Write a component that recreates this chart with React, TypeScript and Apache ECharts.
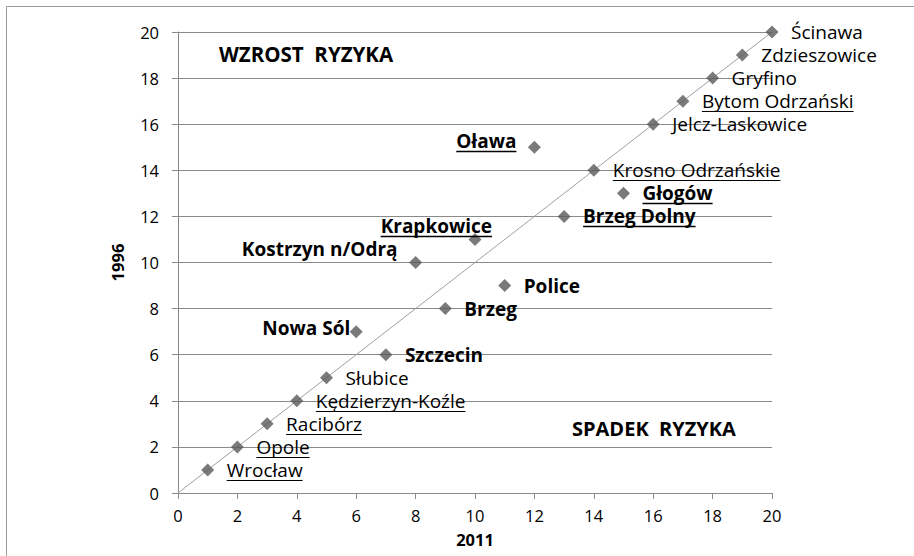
import React, { useEffect, useRef } from "react";
import * as echarts from "echarts";

const cities = [
  "Wrocław", "Opole", "Racibórz", "Kędzierzyn-Koźle", "Słubice", "Szczecin", "Nowa Sól",
  "Brzeg", "Police", "Kostrzyn n/Odrą", "Krapkowice", "Brzeg Dolny", "Głogów",
  "Krosno Odrzańskie", "Oława", "Jelcz-Laskowice", "Bytom Odrzański", "Gryfino",
  "Zdzieszowice", "Ścinawa",
];
const rank2011 = [1, 2, 3, 4, 5, 7, 6, 9, 11, 8, 10, 13, 15, 14, 12, 16, 17, 18, 19, 20];
const rank1996 = [1, 2, 3, 4, 5, 6, 7, 8, 9, 10, 11, 12, 13, 14, 15, 16, 17, 18, 19, 20];
const boldCities = ["Szczecin", "Nowa Sól", "Brzeg", "Police", "Kostrzyn n/Odrą", "Krapkowice", "Brzeg Dolny", "Głogów", "Oława"];
const underlinedCities = ["Wrocław", "Opole", "Racibórz", "Kędzierzyn-Koźle", "Krapkowice", "Brzeg Dolny", "Głogów", "Krosno Odrzańskie", "Oława", "Bytom Odrzański"];
const diagonal = [[0, 0], [20, 20]];
const quadrantTexts = ["WZROST  RYZYKA", "SPADEK  RYZYKA"];

// label placement (style only): labels drawn on the left side, pixel offsets
const leftLabels: Record<string, { dx: number; dy: number }> = {
  "Nowa Sól": { dx: 6, dy: -4 },
  "Kostrzyn n/Odrą": { dx: 18, dy: -14 },
  "Krapkowice": { dx: -17, dy: -13 },
  "Oława": { dx: 18, dy: -6 },
};

const FONT = '"Open Sans", sans-serif';
const LABEL_SIZE = 19;

let ctx: CanvasRenderingContext2D | null = null;
function measure(text: string, weight: string, size: number) {
  if (!ctx) ctx = document.createElement("canvas").getContext("2d");
  if (!ctx) return text.length * size * 0.5;
  ctx.font = `${weight} ${size}px "Open Sans"`;
  return ctx.measureText(text).width;
}

export default function App() {
  const ref = useRef<HTMLDivElement>(null);
  useEffect(() => {
    if (!ref.current) return;
    const chart = echarts.init(ref.current, undefined, { renderer: "svg" });
    const points = rank2011.map((x, i) => [x, rank1996[i]]);
    const gray = "#8a8a8a";
    chart.setOption({
      animation: false,
      backgroundColor: "#ffffff",
      textStyle: { fontFamily: FONT },
      grid: { left: 178, right: 142, top: 32, bottom: 63 },
      xAxis: {
        type: "value",
        min: 0,
        max: 20,
        interval: 2,
        name: "2011",
        nameLocation: "middle",
        nameGap: 38,
        nameTextStyle: { fontWeight: "bold", fontSize: 16.5, color: "#000", fontFamily: FONT },
        axisLine: { show: true, lineStyle: { color: gray } },
        axisTick: { show: true, length: 6, lineStyle: { color: gray } },
        axisLabel: { margin: 14, fontSize: 16.5, color: "#000", fontFamily: FONT },
        splitLine: { show: false },
      },
      yAxis: {
        type: "value",
        min: 0,
        max: 20,
        interval: 2,
        name: "1996",
        nameLocation: "middle",
        nameGap: 52,
        nameTextStyle: { fontWeight: "bold", fontSize: 16.5, color: "#000", fontFamily: FONT },
        axisLine: { show: true, lineStyle: { color: gray } },
        axisTick: { show: true, length: 6, lineStyle: { color: gray } },
        axisLabel: { margin: 19, fontSize: 16.5, color: "#000", fontFamily: FONT },
        splitLine: { show: true, lineStyle: { color: gray, width: 1 } },
      },
      graphic: [
        {
          type: "rect",
          silent: true,
          shape: { x: 6.5, y: 6.5, width: 2000, height: 2000 },
          style: { fill: "none", stroke: "#9a9a9a", lineWidth: 1 },
        },
        {
          type: "text",
          left: 219,
          top: 43,
          style: { text: quadrantTexts[0], fontSize: 20.5, fontWeight: "bold", fill: "#000", fontFamily: FONT },
        },
        {
          type: "text",
          left: 572,
          top: 418,
          style: { text: quadrantTexts[1], fontSize: 20, fontWeight: "bold", fill: "#000", fontFamily: FONT },
        },
      ],
      series: [
        {
          type: "line",
          data: diagonal,
          symbol: "none",
          lineStyle: { color: "#a0a0a0", width: 1 },
          silent: true,
          z: 1,
        },
        {
          type: "scatter",
          data: points,
          symbol: "diamond",
          symbolSize: 13,
          itemStyle: { color: "#595959" },
          z: 3,
        },
        {
          type: "custom",
          data: points,
          clip: false,
          silent: true,
          z: 4,
          renderItem: (params: any, api: any) => {
            const i = params.dataIndex;
            const name = cities[i];
            const p = api.coord([api.value(0), api.value(1)]);
            const bold = boldCities.includes(name);
            const under = underlinedCities.includes(name);
            const weight = bold ? "bold" : "normal";
            const w = measure(name, weight, LABEL_SIZE);
            let tx = p[0] + 19;
            let ty = p[1];
            const lp = leftLabels[name];
            if (lp) {
              tx = p[0] - lp.dx - w;
              ty = p[1] + lp.dy;
            }
            const children: any[] = [
              {
                type: "text",
                style: {
                  text: name,
                  x: tx,
                  y: ty,
                  fontSize: LABEL_SIZE,
                  lineHeight: 20,
                  fontWeight: weight,
                  fontFamily: FONT,
                  fill: "#000",
                  align: "left",
                  verticalAlign: "middle",
                },
              },
            ];
            if (under) {
              const uy = Math.round(ty + 10) + 0.5;
              children.push({
                type: "line",
                shape: { x1: tx, y1: uy, x2: tx + w, y2: uy },
                style: { stroke: "#000", lineWidth: bold ? 1.6 : 1 },
              });
            }
            return { type: "group", children };
          },
        },
      ],
    });
    return () => chart.dispose();
  }, []);
  return (
    <div
      ref={ref}
      style={{ position: "absolute", left: 0, top: 0, width: 914, height: 556 }}
    />
  );
}
